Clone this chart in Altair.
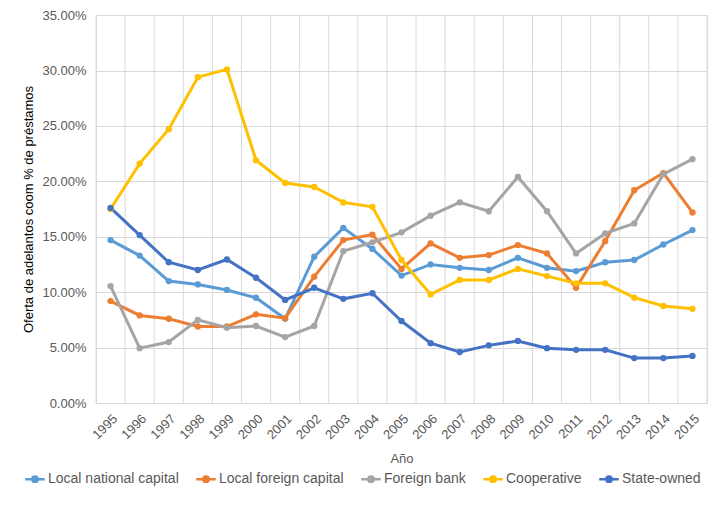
import altair as alt
import pandas as pd

years = list(range(1995, 2016))
series_names = ["Local national capital", "Local foreign capital", "Foreign bank", "Cooperative", "State-owned"]
colors = ["#5B9BD5", "#ED7D31", "#A5A5A5", "#FFC000", "#4472C4"]

local_national = [14.7, 13.3, 11.0, 10.7, 10.2, 9.5, 7.6, 13.2, 15.8, 13.9, 11.5, 12.5, 12.2, 12.0, 13.1, 12.2, 11.9, 12.7, 12.9, 14.3, 15.6]
local_foreign = [9.2, 7.9, 7.6, 6.9, 6.9, 8.0, 7.65, 11.4, 14.7, 15.2, 12.1, 14.4, 13.1, 13.35, 14.25, 13.5, 10.4, 14.6, 19.2, 20.75, 17.2]
foreign_bank = [10.55, 4.95, 5.5, 7.5, 6.8, 6.95, 5.95, 6.95, 13.7, 14.5, 15.4, 16.9, 18.1, 17.3, 20.4, 17.3, 13.5, 15.3, 16.2, 20.65, 22.0]
cooperative = [17.5, 21.6, 24.7, 29.4, 30.1, 21.9, 19.85, 19.5, 18.1, 17.7, 12.9, 9.8, 11.1, 11.1, 12.1, 11.45, 10.8, 10.8, 9.5, 8.75, 8.5]
state_owned = [17.6, 15.15, 12.7, 12.0, 12.95, 11.3, 9.3, 10.4, 9.4, 9.9, 7.4, 5.4, 4.6, 5.2, 5.6, 4.95, 4.8, 4.8, 4.05, 4.05, 4.25]
y_ticks = [0.0, 0.05, 0.10, 0.15, 0.20, 0.25, 0.30, 0.35]

all_series = [local_national, local_foreign, foreign_bank, cooperative, state_owned]

rows = []
for name, vals in zip(series_names, all_series):
    for y, v in zip(years, vals):
        rows.append({"year": y, "series": name, "value": v / 100.0})
df = pd.DataFrame(rows)

grid_df = pd.DataFrame({"edge": [y - 0.5 for y in years] + [years[-1] + 0.5]})

FONT = "Liberation Sans Narrow, Liberation Sans, Arial"

xscale = alt.Scale(domain=[years[0] - 0.5, years[-1] + 0.5], nice=False, zero=False)
yscale = alt.Scale(domain=[0, 0.3501], nice=False)
cscale = alt.Scale(domain=series_names, range=colors)

xaxis = alt.Axis(values=years, format="d", labelAngle=-45, grid=False, ticks=False,
                 domain=True, domainColor="#D9D9D9", labelPadding=9, labelFontSize=13,
                 labelOverlap=False, labelBound=False, labelFlush=False,
                 labelColor="#595959", titleColor="#595959", titleFontSize=13,
                 titleFontWeight="normal", titlePadding=11, labelFont=FONT, titleFont=FONT)

grid = alt.Chart(grid_df).mark_rule(color="#D9D9D9", strokeWidth=1).encode(
    x=alt.X("edge:Q", scale=xscale, title="Año", axis=xaxis),
)

legend_symbol = "M-1,0L1,0M-0.28,0A0.28,0.28 0 1,0 0.28,0A0.28,0.28 0 1,0 -0.28,0Z"

lines = alt.Chart(df).mark_line(strokeWidth=3, point=alt.OverlayMarkDef(filled=True, size=40)).encode(
    x=alt.X("year:Q", scale=xscale, title="Año", axis=xaxis),
    y=alt.Y("value:Q", scale=yscale, title="Oferta de adelantos coom % de préstamos",
            axis=alt.Axis(values=y_ticks, format=".2%", grid=True, gridColor="#D9D9D9",
                          domain=False, ticks=False, labelPadding=10, labelFontSize=13, labelColor="#595959",
                          titleFontSize=13, titleColor="#000000", titleFontWeight="normal", titlePadding=6,
                          labelFont=FONT, titleFont=FONT)),
    color=alt.Color("series:N", scale=cscale, sort=series_names,
                    legend=alt.Legend(title=None, orient="none", direction="horizontal", columns=5,
                                      legendX=-72, legendY=453, symbolType=legend_symbol,
                                      symbolSize=380, symbolStrokeWidth=2.5, labelFontSize=14,
                                      labelColor="#595959", labelFont=FONT, columnPadding=12,
                                      labelOffset=2)),
    order=alt.Order("year:Q"),
)

chart = alt.layer(grid, lines).properties(
    width=611, height=388,
    autosize=alt.AutoSizeParams(type="none"),
    padding={"left": 88, "top": 7, "right": 5, "bottom": 95},
    background="white",
).configure_view(stroke="#D9D9D9")

chart.save("out.html", embed_options={"renderer": "svg", "actions": False})
